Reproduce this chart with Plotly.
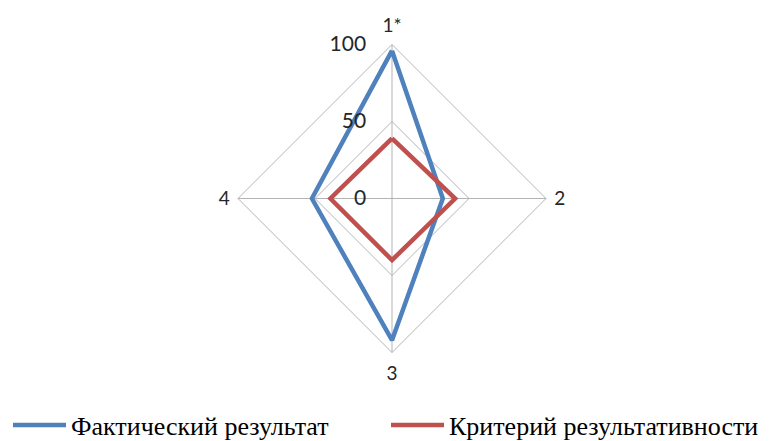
import plotly.graph_objects as go

# Radar axes (clockwise from top)
categories = ["1*", "2", "3", "4"]
actual_values = [96, 33, 92, 52]
criterion_values = [39, 41, 40, 40]
radial_ticks = [0, 50, 100]

COLORS = {
    "actual": "#4f81bd",
    "criterion": "#c0504d",
    "grid": "#b3b3b3",
    "text": "#262626",
}

# page body adds an 8px offset, so shift the layout back by that much
W, H, OFF = 769, 441, 8
CX, CY, R = 392 - OFF, 198.5 - OFF, 154

fig = go.Figure()

fig.add_trace(
    go.Scatterpolar(
        r=actual_values + actual_values[:1],
        theta=categories + categories[:1],
        mode="lines",
        line=dict(color=COLORS["actual"], width=4.5),
        name="Фактический результат",
    )
)

fig.add_trace(
    go.Scatterpolar(
        r=criterion_values + criterion_values[:1],
        theta=categories + categories[:1],
        mode="lines",
        line=dict(color=COLORS["criterion"], width=4.5),
        name="Критерий результативности",
    )
)

fig.update_layout(
    width=W,
    height=H,
    paper_bgcolor="white",
    plot_bgcolor="white",
    font=dict(family="Liberation Serif", color="black"),
    margin=dict(l=0, r=0, t=0, b=0, autoexpand=False),
    polar=dict(
        domain=dict(
            x=[(CX - R) / W, (CX + R) / W],
            y=[(H - CY - R) / H, (H - CY + R) / H],
        ),
        gridshape="linear",
        bgcolor="white",
        radialaxis=dict(
            range=[0, 100],
            tickvals=radial_ticks,
            angle=90,
            tickangle=90,
            side="counterclockwise",
            showline=False,
            ticks="outside",
            ticklen=18,
            tickcolor="rgba(0,0,0,0)",
            gridcolor=COLORS["grid"],
            gridwidth=1,
            tickfont=dict(family="Lato", size=21, color=COLORS["text"]),
        ),
        angularaxis=dict(
            direction="clockwise",
            rotation=90,
            linecolor=COLORS["grid"],
            linewidth=1,
            gridcolor=COLORS["grid"],
            gridwidth=1,
            ticks="outside",
            ticklen=4,
            tickcolor="rgba(0,0,0,0)",
            tickfont=dict(family="Lato", size=19, color=COLORS["text"]),
        ),
    ),
    legend=dict(
        orientation="h",
        x=0,
        xanchor="left",
        y=(H - (425 - OFF)) / H,
        yanchor="middle",
        itemwidth=53,
        entrywidth=310,
        font=dict(family="Liberation Serif", size=26, color="black"),
        bgcolor="rgba(0,0,0,0)",
    ),
)

fig.write_html("out.html")
